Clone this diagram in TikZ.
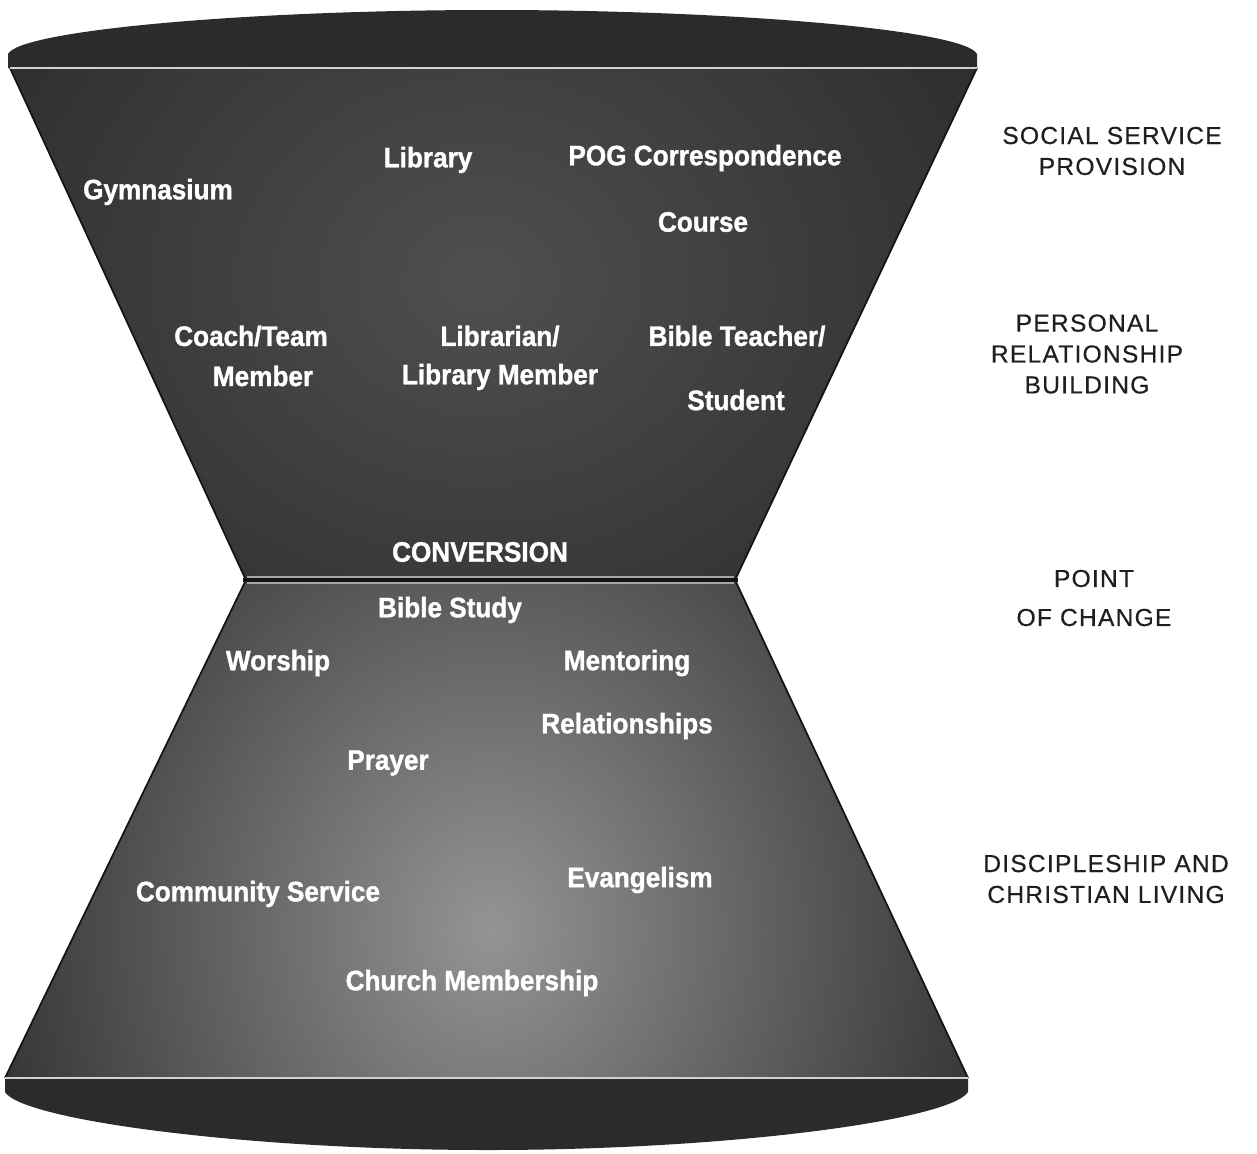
\documentclass[tikz,border=0pt]{standalone}
\usepackage{fontspec}
\setmainfont{Liberation Sans}
\newfontfamily\tagfont[FakeStretch=0.93, FakeBold=1.2]{Liberation Sans Bold}
\newfontfamily\stagefont[LetterSpace=5, FakeBold=0.4]{Liberation Sans}
\definecolor{shell}{gray}{0.17}
\definecolor{edge}{gray}{0.08}
\definecolor{glowup}{gray}{0.31}
\definecolor{glowlow}{gray}{0.58}
\definecolor{rim}{gray}{0.82}
\definecolor{ink}{gray}{0.12}
\tikzset{
  tag/.style={text=white, font=\tagfont\fontsize{16}{18}\selectfont},
  stage/.style={text=ink, align=center, font=\stagefont\fontsize{14}{17.6}\selectfont},
}

\begin{document}
\begin{tikzpicture}[x=0.02cm, y=-0.02cm]
\useasboundingbox (0,0) rectangle (1257,1153);

% lids
\fill[shell] (8,68) -- (8,54) .. controls (20,30) and (250,10) .. (492,10)
  .. controls (734,10) and (965,30) .. (977,54) -- (977,68) -- cycle;
\fill[shell] (5,1078) -- (968,1078) -- (968,1092) .. controls (950,1120) and (730,1150) .. (488,1150)
  .. controls (246,1150) and (22,1120) .. (5,1092) -- cycle;

% upper funnel, a soft light in the middle
\begin{scope}
  \clip (10,68) -- (977,68) -- (736,578) -- (245,578) -- cycle;
  \fill[shell] (0,60) rectangle (990,580);
  \shade[inner color=glowup, outer color=shell] (480,280) ellipse (600 and 500);
\end{scope}
\draw[edge, line width=1pt] (10,68) -- (245,578) (977,68) -- (736,578);

% lower funnel, brighter towards the base
\begin{scope}
  \clip (245,582) -- (736,582) -- (968,1078) -- (5,1078) -- cycle;
  \fill[shell] (0,578) rectangle (990,1080);
  \shade[inner color=glowlow, outer color=shell] (490,930) ellipse (560 and 640);
\end{scope}
\draw[edge, line width=1pt] (245,582) -- (5,1078) (736,582) -- (968,1078);

% rims and the neck
\draw[rim, line width=1.2pt] (10,68) -- (977,68);
\draw[rim, line width=1.2pt] (5,1078) -- (968,1078);
\draw[edge, line width=2pt] (243,580) -- (738,580);
\draw[rim!80!black, line width=.6pt] (247,577) -- (734,577) (247,583) -- (734,583);

% services and relationships
\node[tag] (gym) at (158,192) {Gymnasium};
\node[tag] (library) at (428,160) {Library};
\node[tag] (pog) at (705,158) {POG Correspondence};
\node[tag] (course) at (703,222) {Course};
\node[tag] (coach) at (251,336) {Coach/Team};
\node[tag] (member) at (263,376) {Member};
\node[tag] (librarian) at (500,336) {Librarian/};
\node[tag] (libmember) at (500,377) {Library Member};
\node[tag] (teacher) at (737,336) {Bible Teacher/};
\node[tag] (student) at (736,400) {Student};
\node[tag] (conversion) at (480,552) {CONVERSION};

% discipleship
\node[tag] (study) at (450,610) {Bible Study};
\node[tag] (worship) at (278,663) {Worship};
\node[tag] (mentoring) at (627,663) {Mentoring};
\node[tag] (relations) at (627,726) {Relationships};
\node[tag] (prayer) at (388,763) {Prayer};
\node[tag] (evangelism) at (640,880) {Evangelism};
\node[tag] (community) at (258,894) {Community Service};
\node[tag] (church) at (472,983) {Church Membership};

% stages on the right
\node[stage] (social) at (1112,151) {SOCIAL SERVICE\\PROVISION};
\node[stage] (personal) at (1087,354) {PERSONAL\\RELATIONSHIP\\BUILDING};
\node[stage] (change) at (1094,598) {POINT\\[4.6pt]OF CHANGE};
\node[stage] (living) at (1106,879) {DISCIPLESHIP AND\\CHRISTIAN LIVING};
\end{tikzpicture}
\end{document}
